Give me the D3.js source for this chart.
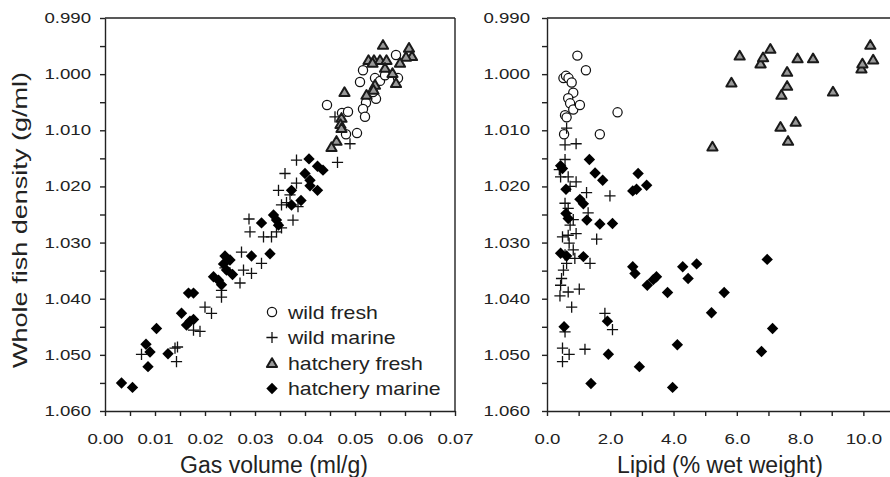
<!DOCTYPE html>
<html lang="en">
<head>
<meta charset="UTF-8" />
<title>Whole fish density</title>
<script src="https://cdn.jsdelivr.net/npm/d3@7/dist/d3.min.js"></script>
<style>
  body { margin: 0; background: #fff; }
  svg { font-family: "Liberation Sans", Arial, sans-serif; }
</style>
</head>
<body>
<script>
// tick values
var yMajor = [0.990, 1.000, 1.010, 1.020, 1.030, 1.040, 1.050, 1.060];
var yMinor = [0.995, 1.005, 1.015, 1.025, 1.035, 1.045, 1.055];
var gasMajor = [0.00, 0.01, 0.02, 0.03, 0.04, 0.05, 0.06, 0.07];
var gasMinor = [0.005, 0.015, 0.025, 0.035, 0.045, 0.055, 0.065];
var lipidMajor = [0, 2, 4, 6, 8, 10];
var lipidMinor = [1, 3, 5, 7, 9];

var groups = ["wild fresh", "wild marine", "hatchery fresh", "hatchery marine"];

// left panel: [gas volume, density]
var gasWildFresh = [[0.0582,0.9966],[0.0516,0.9993],[0.0510,1.0014],[0.0540,1.0007],[0.0550,1.0012],[0.0586,1.0007],
  [0.0560,1.0002],[0.0542,1.0044],[0.0522,1.0051],[0.0516,1.0062],[0.0520,1.0076],[0.0536,1.0032],[0.0444,1.0055],
  [0.0474,1.0069],[0.0486,1.0067],[0.0482,1.0107],[0.0504,1.0105]];
var gasWildMarine = [[0.0460,1.0076],[0.0490,1.0124],[0.0465,1.0157],[0.0383,1.0153],[0.0360,1.0177],[0.0347,1.0207],
  [0.0383,1.0194],[0.0370,1.0215],[0.0353,1.0233],[0.0363,1.0229],[0.0386,1.0236],[0.0376,1.0260],[0.0288,1.0258],
  [0.0290,1.0281],[0.0317,1.0290],[0.0333,1.0290],[0.0343,1.0281],[0.0353,1.0274],[0.0273,1.0317],[0.0313,1.0337],
  [0.0293,1.0355],[0.0277,1.0349],[0.0270,1.0372],[0.0240,1.0345],[0.0233,1.0385],[0.0233,1.0397],[0.0200,1.0415],
  [0.0213,1.0426],[0.0177,1.0456],[0.0190,1.0458],[0.0073,1.0499],[0.0140,1.0488],[0.0145,1.0486],[0.0143,1.0512]];
var gasHatchFresh = [[0.0556,0.9948],[0.0608,0.9953],[0.0614,0.9968],[0.0602,0.9969],[0.0590,0.9980],[0.0527,0.9975],
  [0.0538,0.9975],[0.0550,0.9975],[0.0563,0.9975],[0.0535,0.9980],[0.0560,0.9989],[0.0575,0.9998],[0.0582,1.0016],
  [0.0540,1.0019],[0.0537,1.0028],[0.0523,1.0037],[0.0479,1.0032],[0.0473,1.0078],[0.0471,1.0089],[0.0473,1.0096],
  [0.0463,1.0119],[0.0453,1.0130]];
var gasHatchMarine = [[0.0408,1.0151],[0.0425,1.0164],[0.0436,1.0171],[0.0400,1.0177],[0.0410,1.0189],[0.0373,1.0207],
  [0.0410,1.0199],[0.0425,1.0207],[0.0392,1.0225],[0.0373,1.0233],[0.0337,1.0251],[0.0343,1.0260],[0.0347,1.0269],
  [0.0313,1.0265],[0.0330,1.0320],[0.0293,1.0324],[0.0240,1.0324],[0.0250,1.0331],[0.0237,1.0338],[0.0243,1.0349],
  [0.0217,1.0361],[0.0227,1.0367],[0.0233,1.0375],[0.0255,1.0357],[0.0167,1.0390],[0.0177,1.0390],[0.0153,1.0426],
  [0.0170,1.0440],[0.0177,1.0437],[0.0163,1.0447],[0.0103,1.0453],[0.0082,1.0481],[0.0090,1.0495],[0.0086,1.0521],
  [0.0126,1.0498],[0.0033,1.0550],[0.0055,1.0558]];

// right panel: [lipid %, density]
var lipWildFresh = [[0.96,0.9967],[1.23,0.9993],[0.52,1.0007],[0.60,1.0003],[0.68,1.0007],[0.78,1.0015],[0.83,1.0033],
  [0.67,1.0043],[0.73,1.0052],[0.83,1.0063],[1.04,1.0055],[0.57,1.0073],[0.62,1.0077],[2.23,1.0068],[0.54,1.0107],
  [1.67,1.0107]];
var lipWildMarine = [[0.62,1.0096],[0.57,1.0126],[0.92,1.0124],[0.57,1.0152],[0.39,1.0170],[0.43,1.0183],[0.67,1.0183],
  [0.92,1.0192],[0.73,1.0200],[1.25,1.0211],[1.99,1.0217],[0.57,1.0230],[0.67,1.0239],[0.62,1.0248],[1.30,1.0247],
  [0.83,1.0259],[0.73,1.0269],[1.57,1.0294],[0.49,1.0290],[0.67,1.0287],[0.92,1.0284],[0.70,1.0301],[0.83,1.0313],
  [0.57,1.0322],[0.88,1.0328],[1.36,1.0337],[0.62,1.0337],[0.52,1.0349],[0.46,1.0364],[0.43,1.0376],[0.41,1.0395],
  [0.67,1.0388],[1.02,1.0383],[0.78,1.0415],[1.83,1.0426],[2.07,1.0455],[0.57,1.0459],[0.49,1.0488],[0.70,1.0499],
  [1.20,1.0490],[0.49,1.0512]];
var lipHatchFresh = [[6.09,0.9967],[6.75,0.9981],[6.83,0.9970],[7.06,0.9955],[7.59,0.9996],[7.59,1.0021],[7.41,1.0037],
  [7.92,0.9972],[8.41,0.9972],[5.83,1.0015],[9.04,1.0031],[9.94,0.9990],[9.97,0.9981],[10.22,0.9948],[10.31,0.9974],
  [7.38,1.0094],[7.86,1.0085],[7.62,1.0119],[5.23,1.0129]];
var lipHatchMarine = [[1.34,1.0152],[1.52,1.0176],[1.76,1.0189],[2.88,1.0177],[3.15,1.0198],[2.71,1.0208],[2.83,1.0205],
  [0.43,1.0163],[0.49,1.0168],[0.60,1.0205],[1.04,1.0223],[1.15,1.0231],[1.26,1.0260],[1.67,1.0267],[2.07,1.0266],
  [0.60,1.0248],[0.67,1.0257],[0.43,1.0319],[0.62,1.0324],[1.15,1.0325],[2.71,1.0343],[2.78,1.0355],[3.17,1.0376],
  [3.36,1.0366],[3.46,1.0361],[3.81,1.0389],[4.29,1.0343],[4.46,1.0364],[4.73,1.0338],[6.96,1.0330],[5.60,1.0389],
  [5.20,1.0425],[7.13,1.0453],[0.54,1.0450],[1.91,1.0440],[4.12,1.0482],[1.94,1.0499],[6.78,1.0494],[2.92,1.0521],
  [1.39,1.0551],[3.97,1.0558]];

var w = 890, h = 477;
var plotTop = 18, plotBot = 411;
var ink = "#222";

var svg = d3.select("body").append("svg").attr("width", w).attr("height", h);

// stretch text horizontally like the scanned figure
function stretch(sel, k) {
  sel.each(function() {
    var len = this.getComputedTextLength();
    d3.select(this).attr("textLength", len * k).attr("lengthAdjust", "spacingAndGlyphs");
  });
}

function drawMark(g, type, px, py) {
  if (type == 0) {
    g.append("circle").attr("cx", px).attr("cy", py).attr("r", 4.6)
      .attr("fill", "#fff").attr("stroke", "#111").attr("stroke-width", 1.25);
  } else if (type == 1) {
    g.append("path").attr("d", "M-5.6,0H5.6M0,-5.6V5.6").attr("transform", "translate(" + px + "," + py + ")")
      .attr("fill", "none").attr("stroke", "#111").attr("stroke-width", 1.3);
  } else if (type == 2) {
    g.append("path").attr("d", "M0,-4.8L5.1,3.9L-5.1,3.9Z").attr("transform", "translate(" + px + "," + py + ")")
      .attr("fill", "#999").attr("stroke", "#1a1a1a").attr("stroke-width", 2).attr("stroke-linejoin", "round");
  } else {
    g.append("path").attr("d", "M0,-5.7L5.7,0L0,5.7L-5.7,0Z").attr("transform", "translate(" + px + "," + py + ")")
      .attr("fill", "#000");
  }
}

function panel(x0, x1, xDomain, xMajor, xMinor, fmt, sets, yPad) {
  var x = d3.scaleLinear().domain(xDomain).range([x0, x1]);
  var y = d3.scaleLinear().domain([0.990, 1.060]).range([plotTop, plotBot]);
  var g = svg.append("g");

  // frame top and right
  g.append("line").attr("x1", x0).attr("x2", x1).attr("y1", plotTop).attr("y2", plotTop)
    .attr("stroke", ink).attr("stroke-width", 1.4);
  g.append("line").attr("x1", x1).attr("x2", x1).attr("y1", plotTop).attr("y2", plotBot)
    .attr("stroke", ink).attr("stroke-width", 1.4);

  g.append("g").attr("transform", "translate(" + x0 + ",0)")
    .call(d3.axisLeft(y).tickValues(yMajor).tickFormat(d3.format(".3f")).tickSize(5).tickSizeOuter(0).tickPadding(yPad));
  g.append("g").attr("transform", "translate(" + x0 + ",0)")
    .call(d3.axisLeft(y).tickValues(yMinor).tickFormat("").tickSize(5).tickSizeOuter(0))
    .select(".domain").remove();

  g.append("g").attr("transform", "translate(0," + plotBot + ")")
    .call(d3.axisBottom(x).tickValues(xMajor).tickFormat(d3.format(fmt)).tickSize(5).tickSizeOuter(0).tickPadding(18));
  g.append("g").attr("transform", "translate(0," + plotBot + ")")
    .call(d3.axisBottom(x).tickValues(xMinor).tickFormat("").tickSize(5).tickSizeOuter(0))
    .select(".domain").remove();

  g.selectAll(".domain, .tick line").attr("stroke", ink).attr("stroke-width", 1.4);
  var labels = g.selectAll(".tick text").attr("font-size", 14).attr("fill", ink)
    .attr("font-family", "'Liberation Sans', Arial, sans-serif");
  stretch(labels, 1.33);

  var marks = g.append("g");
  sets.forEach(function(s, i) {
    s.forEach(function(d) { drawMark(marks, i, x(d[0]), y(d[1])); });
  });
  return g;
}

panel(105, 455, [0, 0.07], gasMajor, gasMinor, ".2f",
  [gasWildFresh, gasWildMarine, gasHatchFresh, gasHatchMarine], 9);
panel(547, 895, [0, 11], lipidMajor, lipidMinor, ".1f",
  [lipWildFresh, lipWildMarine, lipHatchFresh, lipHatchMarine], 12);

// axis titles
svg.append("text").attr("x", 274).attr("y", 473).attr("text-anchor", "middle")
  .attr("font-size", 23).attr("fill", ink).text("Gas volume (ml/g)");
svg.append("text").attr("x", 720).attr("y", 473).attr("text-anchor", "middle")
  .attr("font-size", 23).attr("fill", ink).text("Lipid (% wet weight)");
svg.append("text").attr("transform", "translate(27,220) rotate(-90)").attr("text-anchor", "middle")
  .attr("font-size", 21).attr("fill", ink)
  .attr("textLength", 296).attr("lengthAdjust", "spacingAndGlyphs")
  .text("Whole fish density (g/ml)");

// legend
var lg = svg.append("g");
groups.forEach(function(name, i) {
  var cy = 312 + i * 25.5;
  drawMark(lg, i, 272, cy);
  var t = lg.append("text").attr("x", 288).attr("y", cy + 6.5).attr("font-size", 19).attr("fill", ink).text(name);
  stretch(t, 1.12);
});
</script>
</body>
</html>
